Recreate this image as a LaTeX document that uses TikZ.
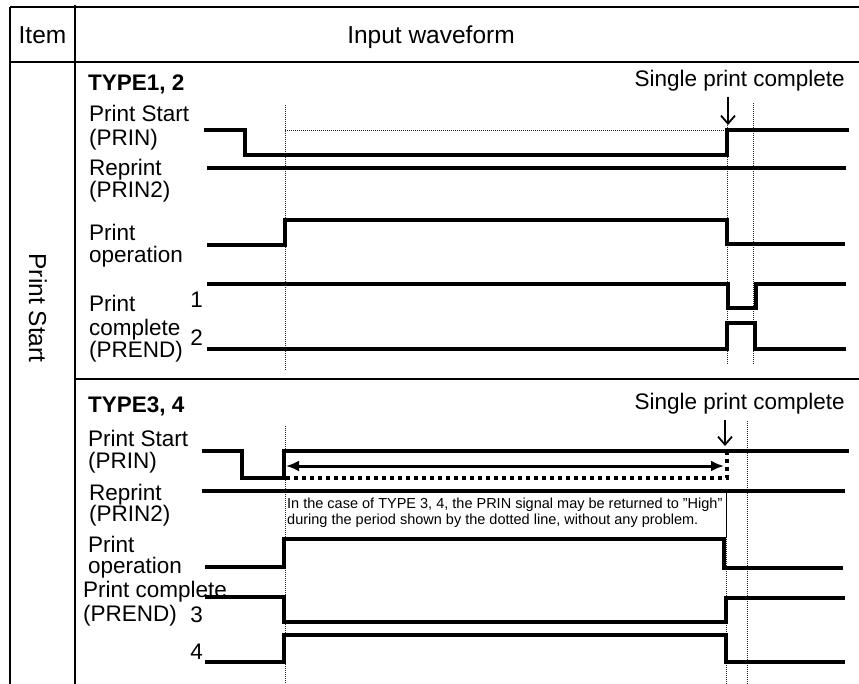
\documentclass[tikz,border=0pt]{standalone}
\usepackage{fontspec}
\setmainfont{Liberation Sans}
\usetikzlibrary{arrows.meta}
\begin{document}
\begin{tikzpicture}[x=1pt,y=-1pt,
  grid/.style={line width=1.6pt},
  wave/.style={line width=4pt, line join=miter},
  guide/.style={line width=0.8pt, dash pattern=on 1pt off 1pt, black!85},
  hdr/.style={inner sep=0pt, font=\fontsize{24.5}{26}\selectfont},
  lbl/.style={inner sep=0pt, anchor=base west, font=\fontsize{22.5}{24}\selectfont},
  num/.style={inner sep=0pt, anchor=base east, font=\fontsize{22.5}{24}\selectfont},
  ttl/.style={inner sep=0pt, anchor=base west, font=\fontsize{22.5}{24}\selectfont\bfseries},
  spc/.style={inner sep=0pt, anchor=base east, font=\fontsize{22.5}{24}\selectfont},
  note/.style={inner sep=0pt, anchor=base west, font=\fontsize{14.5}{15}\selectfont},
  ptr/.style={line width=1.8pt, -{Straight Barb[length=8pt,width=14pt]}},
  dbl/.style={line width=3pt, {Latex[length=13pt,width=11pt]}-{Latex[length=13pt,width=11pt]}},
  dots/.style={line width=3.5pt, dash pattern=on 4pt off 4pt}
]
\useasboundingbox (0,0) rectangle (859,684);

% table
\draw[grid] (10,7) -- (859,7);
\draw[grid] (10,62) -- (859,62);
\draw[grid] (10,7) -- (10,684);
\draw[grid] (75,5) -- (75,684);
\draw[grid] (75,379) -- (859,379);

\node[hdr, anchor=base] (item) at (42.5,44) {Item};
\node[hdr, anchor=base] (inwave) at (431,44) {Input waveform};
\node[hdr, rotate=-90] (psrot) at (38,308) {Print Start};

% ===== TYPE1, 2 =====
\node[ttl] (t12) at (88,91) {TYPE1, 2};
\node[spc] (spc1) at (845,87) {Single print complete};
\node[lbl] (a1) at (89,122) {Print Start};
\node[lbl] (a2) at (89,146) {(PRIN)};
\node[lbl] (b1) at (89,176) {Reprint};
\node[lbl] (b2) at (89,198) {(PRIN2)};
\node[lbl] (c1) at (89,241) {Print};
\node[lbl] (c2) at (89,263) {operation};
\node[lbl] (d1) at (89,312) {Print};
\node[lbl] (d2) at (89,336) {complete};
\node[lbl] (d3) at (89,358) {(PREND)};
\node[num] (n1) at (203,308) {1};
\node[num] (n2) at (203,346) {2};

\draw[guide] (285,105) -- (285,370);
\draw[guide] (727,103) -- (727,365);
\draw[guide] (753,103) -- (753,365);
\draw[guide] (285,130) -- (727,130);

\coordinate (p1s) at (728,97);
\coordinate (p1e) at (728,125);
\draw[ptr] (p1s) -- (p1e);

\draw[wave] (204,130) -- (245,130) -- (245,155) -- (727,155) -- (727,130) -- (849,130);
\draw[wave] (207,168) -- (846,168);
\draw[wave] (207,245) -- (285,245) -- (285,220) -- (727,220) -- (727,244) -- (845,244);
\draw[wave] (207,284) -- (728,284) -- (728,308) -- (756,308) -- (756,284) -- (846,284);
\draw[wave] (207,349) -- (727,349) -- (727,323) -- (755,323) -- (755,349) -- (846,349);

% ===== TYPE3, 4 =====
\node[ttl] (t34) at (88,412) {TYPE3, 4};
\node[spc] (spc2) at (845,409) {Single print complete};
\node[lbl] (e1) at (88,446) {Print Start};
\node[lbl] (e2) at (88,468) {(PRIN)};
\node[lbl] (f1) at (89,500) {Reprint};
\node[lbl] (f2) at (89,521) {(PRIN2)};
\node[lbl] (g1) at (88,552) {Print};
\node[lbl] (g2) at (88,573) {operation};
\node[lbl] (h1) at (83,597) {Print complete};
\node[lbl] (h2) at (83,621) {(PREND)};
\node[num] (n3) at (203,622) {3};
\node[num] (n4) at (203,659) {4};

\draw[guide] (285,426) -- (285,684);
\draw[guide] (747,421) -- (747,684);
\draw[guide] (726,491) -- (726,684);
\draw[line width=0.8pt] (726,491) -- (726,537);

\node[note] (nt1) at (287,508) {In the case of TYPE 3, 4, the PRIN signal may be returned to "High"};
\node[note] (nt2) at (287,524) {during the period shown by the dotted line, without any problem.};

\coordinate (p2s) at (725,420);
\coordinate (p2e) at (725,446);
\draw[ptr] (p2s) -- (p2e);

\draw[wave] (202,451) -- (242,451) -- (242,478) -- (284,478) -- (284,451) -- (849,451);
\coordinate (dl) at (286,466);
\coordinate (dr) at (724,466);
\draw[dbl] (dl) -- (dr);
\draw[dots] (286,478) -- (727,478) -- (727,453);
\draw[wave] (202,491) -- (845,491);
\draw[wave] (205,567) -- (284,567) -- (284,539) -- (724,539) -- (724,568) -- (843,568);
\draw[wave] (205,597) -- (284,597) -- (284,622) -- (726,622) -- (726,598) -- (845,598);
\draw[wave] (205,662) -- (284,662) -- (284,635) -- (726,635) -- (726,662) -- (845,662);
\end{tikzpicture}
\end{document}
